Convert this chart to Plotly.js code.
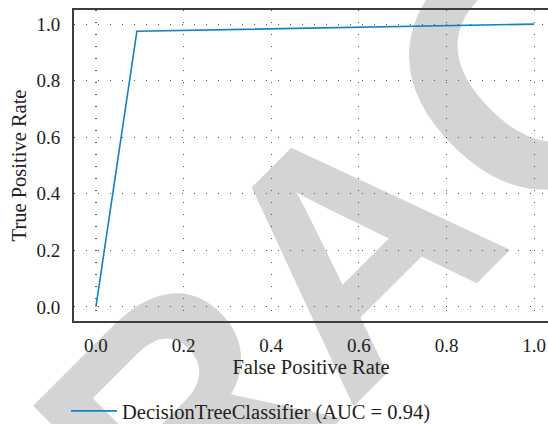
<!DOCTYPE html>
<html>
<head>
<meta charset="utf-8">
<script src="https://cdn.plot.ly/plotly-3.0.1.min.js"></script>
<style>
html, body { margin: 0; padding: 0; overflow: hidden; background: #ffffff; }
#chart { width: 548px; height: 424px; }
</style>
</head>
<body>
<div id="chart"></div>
<script>
// ROC curve data
const fpr = [0.0, 0.0935, 1.0];
const tpr = [0.0, 0.975, 1.0];
const seriesName = "DecisionTreeClassifier (AUC = 0.94)";
const tickVals = [0.0, 0.2, 0.4, 0.6, 0.8, 1.0];
const tickText = ["0.0", "0.2", "0.4", "0.6", "0.8", "1.0"];
const xTitle = "False Positive Rate";
const yTitle = "True Positive Rate";
// visible letters of the diagonal "RETRACTED" watermark
const watermarkLetters = ["R", "A", "C"];

const W = 548, H = 424;
const mL = 74, mR = 0, mT = 10, mB = 103;
const pw = W - mL - mR, ph = H - mT - mB;

const letterX = [-240, 0, 259];
const letterY = [0, 0, 11];
const letterSize = [330, 330, 360];
let tspans = '';
watermarkLetters.forEach(function (ch, i) {
  tspans += '<tspan x="' + letterX[i] + '" y="' + letterY[i] + '" font-size="' + letterSize[i] + '">' + ch + '</tspan>';
});
const svg = '<svg xmlns="http://www.w3.org/2000/svg" width="' + W + '" height="' + H + '" viewBox="0 0 ' + W + ' ' + H + '">' +
  '<text transform="translate(432,328) rotate(-45)" text-anchor="middle" ' +
  'font-family="Liberation Sans, Arial, sans-serif" font-weight="bold" font-size="330" fill="#d4d4d4">' +
  tspans + '</text></svg>';
const svgUri = 'data:image/svg+xml;charset=utf-8,' + encodeURIComponent(svg);

const serif = "Liberation Serif, Times New Roman, serif";
const txtColor = "#222222";

const trace = {
  x: fpr, y: tpr, type: 'scatter', mode: 'lines',
  name: seriesName,
  line: { color: '#1480c6', width: 1.6 }
};

const axisCommon = {
  showline: true, linecolor: '#3c3c3c', linewidth: 2,
  ticks: '', showgrid: true, gridcolor: '#555555', gridwidth: 1.2,
  griddash: '1px,11px', zeroline: false,
  tickvals: tickVals, ticktext: tickText,
  tickfont: { family: serif, size: 19, color: txtColor },
  automargin: false
};

const layout = {
  width: W, height: H,
  margin: { l: mL, r: mR, t: mT, b: mB, pad: 0, autoexpand: false },
  paper_bgcolor: 'rgba(0,0,0,0)',
  plot_bgcolor: 'rgba(0,0,0,0)',
  showlegend: true,
  xaxis: Object.assign({}, axisCommon, {
    range: [-0.05, -0.05 + pw / 438.3],
    mirror: true,
    ticklabelstandoff: 6,
    title: { text: xTitle, font: { family: serif, size: 20.5, color: txtColor }, standoff: 5 }
  }),
  yaxis: Object.assign({}, axisCommon, {
    range: [-0.05, 1.05],
    mirror: false,
    ticklabelstandoff: 8,
    title: { text: yTitle, font: { family: serif, size: 20.5, color: txtColor }, standoff: 4 }
  }),
  legend: {
    x: (66 - mL) / pw, xanchor: 'left',
    y: (mT + ph - 391) / ph, yanchor: 'top',
    bgcolor: 'rgba(0,0,0,0)', borderwidth: 0,
    font: { family: serif, size: 20.5, color: txtColor },
    itemwidth: 46
  },
  images: [{
    source: svgUri, xref: 'paper', yref: 'paper',
    x: -mL / pw, y: (ph + mT) / ph, sizex: W / pw, sizey: H / ph,
    xanchor: 'left', yanchor: 'top', sizing: 'stretch', layer: 'below', opacity: 1
  }]
};

Plotly.newPlot('chart', [trace], layout, { displayModeBar: false, staticPlot: true });
</script>
</body>
</html>
